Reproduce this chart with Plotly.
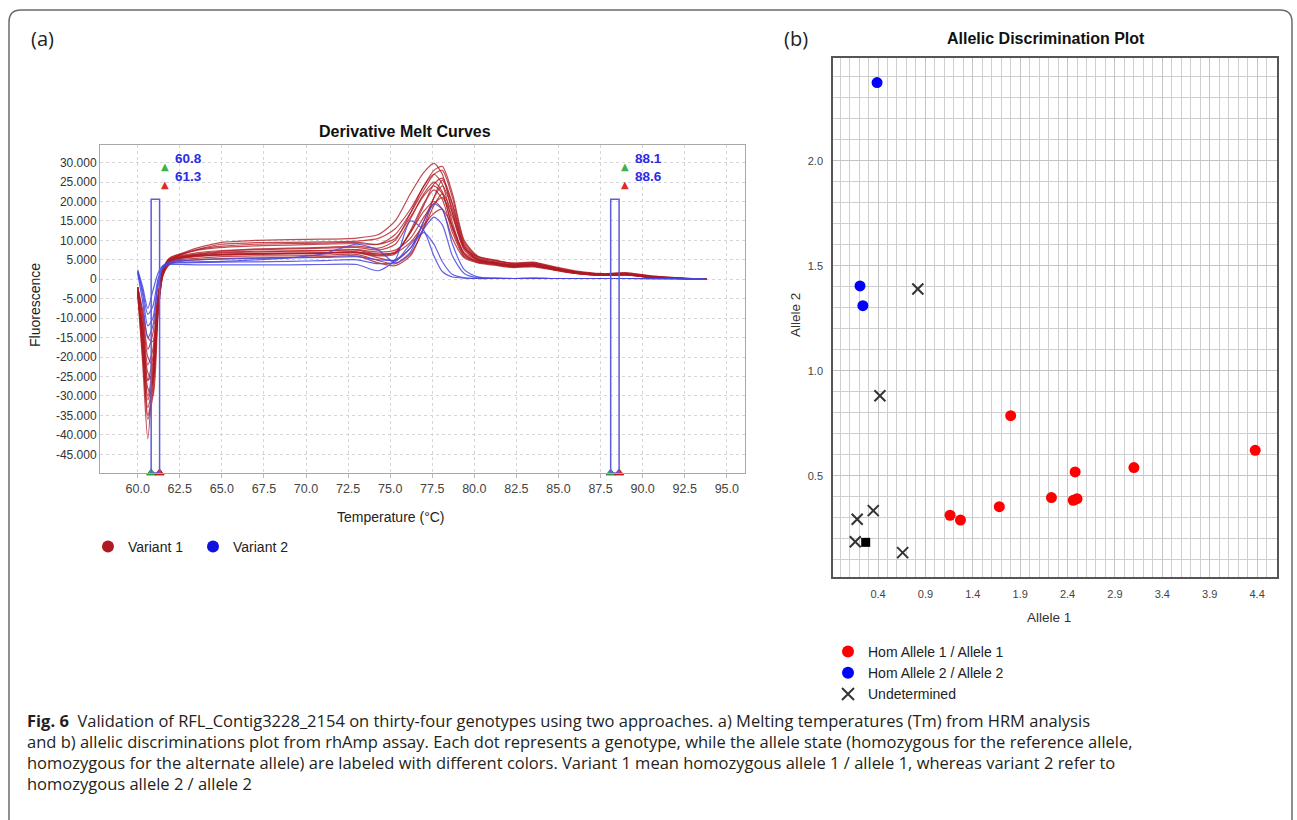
import plotly.graph_objects as go

W, H = 1297, 820

# ---------------- (a) Derivative melt curves: data (values in thousands) ----------------
TEMPS = [60.0, 60.3, 60.6, 60.9, 61.2, 61.5, 61.9, 62.5, 63.5, 65.0, 67.0, 69.0, 71.0, 73.0,
         74.3, 75.3, 76.2, 77.0, 77.6, 78.1, 78.7, 79.4, 80.2, 81.2, 82.3, 83.5, 84.8, 86.0,
         87.5, 89.0, 90.5, 92.0, 93.0, 93.8]

v1_c01 = [-3, -22, -41, -24, -6, 2.5, 5.5, 6.5, 8.0, 9.5, 10.0, 10.2, 10.3, 10.6, 11.5, 15.0, 22.0, 27.5, 29.8, 27.0, 17.0, 8.0, 5.8, 4.8, 4.2, 4.4, 3.2, 2.2, 1.5, 1.6, 0.9, 0.4, 0.2, 0.0]
v1_c02 = [-2, -18, -36, -30, -8, 2.0, 5.0, 6.2, 7.6, 9.0, 9.4, 9.5, 9.6, 9.8, 10.5, 13.0, 18.0, 24.0, 28.0, 29.0, 22.0, 10.0, 6.0, 5.0, 4.0, 4.2, 3.0, 2.0, 1.4, 1.7, 0.8, 0.4, 0.2, 0.0]
v1_c03 = [-4, -20, -33, -26, -7, 2.0, 4.8, 5.8, 6.5, 7.2, 7.8, 8.0, 8.2, 8.5, 8.0, 10.0, 17.0, 24.0, 27.0, 24.5, 14.5, 6.5, 4.8, 4.2, 3.6, 3.8, 2.8, 1.8, 1.2, 1.3, 0.7, 0.3, 0.1, 0.0]
v1_c04 = [-3, -15, -28, -30, -10, 1.5, 4.5, 5.5, 6.2, 6.8, 7.0, 7.2, 7.3, 7.5, 6.5, 7.0, 12.0, 19.0, 24.5, 26.0, 19.5, 9.0, 5.5, 4.5, 3.8, 4.0, 2.9, 1.9, 1.3, 1.4, 0.7, 0.3, 0.1, 0.0]
v1_c05 = [-2, -16, -30, -22, -6, 2.5, 5.2, 6.0, 6.8, 7.4, 7.6, 7.8, 8.0, 8.2, 7.5, 9.0, 15.5, 22.0, 25.0, 22.5, 13.0, 6.0, 4.6, 4.0, 3.4, 3.6, 2.6, 1.7, 1.1, 1.2, 0.6, 0.3, 0.1, 0.0]
v1_c06 = [-4, -12, -24, -26, -9, 1.0, 4.3, 5.2, 5.8, 6.3, 6.5, 6.6, 6.8, 7.0, 5.5, 4.8, 8.0, 15.0, 21.0, 24.0, 18.0, 8.5, 5.2, 4.2, 3.5, 3.8, 2.7, 1.8, 1.2, 1.3, 0.6, 0.3, 0.1, 0.0]
v1_c07 = [-3, -13, -26, -20, -5, 2.0, 4.8, 5.5, 6.0, 6.2, 6.4, 6.5, 6.6, 6.8, 6.0, 6.5, 12.5, 19.5, 23.0, 20.5, 12.0, 5.8, 4.4, 3.8, 3.2, 3.4, 2.4, 1.6, 1.0, 1.1, 0.5, 0.2, 0.1, 0.0]
v1_c08 = [-2, -10, -20, -22, -8, 1.0, 4.0, 5.0, 5.4, 5.8, 6.0, 6.0, 6.2, 6.4, 4.8, 4.0, 6.5, 13.0, 19.0, 22.0, 17.0, 8.0, 5.0, 4.0, 3.3, 3.5, 2.5, 1.6, 1.1, 1.2, 0.5, 0.2, 0.1, 0.0]
v1_c09 = [-3, -12, -22, -18, -5, 2.0, 4.6, 5.6, 6.4, 7.0, 7.2, 7.3, 7.4, 7.6, 7.0, 7.5, 10.5, 16.0, 19.5, 21.0, 16.0, 7.5, 5.0, 4.2, 3.6, 3.8, 2.7, 1.8, 1.2, 1.3, 0.6, 0.3, 0.1, 0.0]
v1_c10 = [-2, -9, -18, -14, -4, 2.5, 5.0, 5.8, 6.2, 6.5, 6.6, 6.7, 6.8, 7.0, 6.2, 6.8, 12.0, 17.5, 20.0, 18.0, 10.5, 5.5, 4.2, 3.6, 3.0, 3.2, 2.3, 1.5, 1.0, 1.1, 0.5, 0.2, 0.1, 0.0]
v1_c11 = [-3, -18, -35, -28, -8, 2.0, 5.0, 6.2, 7.4, 8.2, 8.6, 8.8, 9.0, 9.2, 9.0, 11.5, 17.0, 23.0, 27.0, 28.0, 21.0, 9.5, 5.8, 4.8, 4.0, 4.2, 3.0, 2.0, 1.4, 1.5, 0.7, 0.3, 0.1, 0.0]
v1_c12 = [-4, -14, -26, -24, -7, 1.0, 3.8, 4.6, 5.0, 5.3, 5.5, 5.6, 5.8, 6.0, 4.2, 3.5, 6.0, 13.5, 21.0, 25.5, 19.0, 8.5, 5.0, 4.0, 3.3, 3.5, 2.5, 1.6, 1.1, 1.2, 0.5, 0.2, 0.1, 0.0]
v1_c13 = [-2, -8, -15, -16, -5, 2.0, 4.6, 5.4, 6.0, 6.4, 6.6, 6.7, 6.8, 7.0, 6.5, 6.8, 9.5, 14.0, 17.0, 18.0, 13.5, 6.5, 4.5, 3.8, 3.2, 3.4, 2.4, 1.5, 1.0, 1.1, 0.5, 0.2, 0.1, 0.0]
v1_c14 = [-3, -16, -31, -25, -6, 2.5, 5.4, 6.4, 7.6, 8.5, 9.0, 9.2, 9.3, 9.5, 9.0, 10.5, 16.0, 21.5, 24.0, 22.0, 13.5, 6.8, 5.2, 4.4, 3.7, 3.9, 2.8, 1.9, 1.3, 1.4, 0.7, 0.3, 0.1, 0.0]

v2_c01 = [2.5, -2.0, -7.5, -3.0, 1.5, 3.5, 3.8, 3.8, 3.7, 3.7, 3.7, 3.7, 3.8, 3.8, 2.2, 5.0, 15.0, 12.5, 6.0, 2.0, 0.6, 0.3, 0.2, 0.2, 0.2, 0.3, 0.2, 0.2, 0.2, 0.2, 0.2, 0.2, 0.1, 0.0]
v2_c02 = [1.5, -6.0, -15.0, -12.0, -2.0, 3.0, 4.2, 4.4, 4.5, 4.6, 5.0, 5.5, 6.5, 9.0, 7.5, 4.2, 7.0, 15.0, 19.3, 18.0, 9.0, 2.5, 0.6, 0.3, 0.2, 0.3, 0.2, 0.2, 0.2, 0.2, 0.2, 0.2, 0.1, 0.0]
v2_c03 = [2.0, -4.0, -12.0, -10.0, -1.0, 3.0, 4.0, 4.2, 4.3, 4.4, 4.5, 4.6, 4.8, 5.0, 4.0, 4.5, 9.0, 12.0, 9.0, 4.5, 1.2, 0.4, 0.2, 0.2, 0.2, 0.2, 0.2, 0.2, 0.2, 0.2, 0.1, 0.1, 0.1, 0.0]
v2_c04 = [2.0, -3.0, -9.0, -7.0, 0.0, 3.5, 4.5, 4.8, 5.0, 5.2, 5.4, 5.5, 5.6, 5.8, 5.0, 5.0, 8.0, 13.0, 16.0, 14.0, 6.0, 1.5, 0.4, 0.3, 0.2, 0.2, 0.2, 0.2, 0.2, 0.2, 0.2, 0.1, 0.1, 0.0]

VARIANT1_CURVES = [v1_c01, v1_c02, v1_c03, v1_c04, v1_c05, v1_c06, v1_c07,
                   v1_c08, v1_c09, v1_c10, v1_c11, v1_c12, v1_c13, v1_c14]
VARIANT2_CURVES = [v2_c01, v2_c02, v2_c03, v2_c04]

TM_GREEN = [60.8, 88.1]
TM_RED = [61.3, 88.6]
TM_BOX_TOP = 20.6

A_XTICKS = [60.0, 62.5, 65.0, 67.5, 70.0, 72.5, 75.0, 77.5, 80.0, 82.5, 85.0, 87.5, 90.0, 92.5, 95.0]
A_YTICKS = [30, 25, 20, 15, 10, 5, 0, -5, -10, -15, -20, -25, -30, -35, -40, -45]
A_YTICKTEXT = ["30.000", "25.000", "20.000", "15.000", "10.000", "5.000", "0", "-5.000",
               "-10.000", "-15.000", "-20.000", "-25.000", "-30.000", "-35.000", "-40.000", "-45.000"]

# ---------------- (b) Allelic discrimination: data ----------------
HOM1_X = [1.80, 4.38, 3.10, 2.48, 2.23, 2.46, 2.50, 1.68, 1.16, 1.27]
HOM1_Y = [0.787, 0.622, 0.540, 0.519, 0.397, 0.384, 0.392, 0.354, 0.313, 0.290]
HOM2_X = [0.39, 0.21, 0.24]
HOM2_Y = [2.373, 1.405, 1.311]
UND_X = [0.82, 0.42, 0.35, 0.18, 0.16, 0.66]
UND_Y = [1.390, 0.882, 0.335, 0.294, 0.187, 0.135]
NTC_X = [0.27]
NTC_Y = [0.184]

# ---------------- layout helpers (pixels -> paper) ----------------
def px(x):
    return x / W

def py(y):
    return 1 - y / H

A_XRANGE = [57.76, 96.08]
A_YRANGE = [-49.8, 34.52]
B_XRANGE = [-0.075, 4.61]
B_YRANGE = [0.019, 2.49]

ARIAL = "Liberation Sans, Arial, sans-serif"
CAP = "Open Sans, Noto Sans, sans-serif"

RED_LINE = "rgba(176,26,34,0.78)"
BLUE_LINE = "rgba(70,70,225,0.85)"

fig = go.Figure()

for c in VARIANT1_CURVES:
    fig.add_trace(go.Scatter(x=TEMPS, y=c, mode="lines", line=dict(color=RED_LINE, width=1.2, shape="spline", smoothing=0.7),
                             showlegend=False, hoverinfo="skip", xaxis="x", yaxis="y"))
for c in VARIANT2_CURVES:
    fig.add_trace(go.Scatter(x=TEMPS[:len(c)], y=c, mode="lines", line=dict(color=BLUE_LINE, width=1.2, shape="spline", smoothing=0.7),
                             showlegend=False, hoverinfo="skip", xaxis="x", yaxis="y"))

# bottom Tm markers on the axis
fig.add_trace(go.Scatter(x=TM_GREEN, y=[A_YRANGE[0]] * len(TM_GREEN), mode="markers", cliponaxis=False,
                         marker=dict(symbol="triangle-up", size=8, color="#3db24a", line=dict(color="#1f7a2a", width=0.8)),
                         showlegend=False, hoverinfo="skip", xaxis="x", yaxis="y"))
fig.add_trace(go.Scatter(x=TM_RED, y=[A_YRANGE[0]] * len(TM_RED), mode="markers", cliponaxis=False,
                         marker=dict(symbol="triangle-up", size=8, color="#e02a2a", line=dict(color="#9a1010", width=0.8)),
                         showlegend=False, hoverinfo="skip", xaxis="x", yaxis="y"))

# legend entries for (a)
fig.add_trace(go.Scatter(x=[None], y=[None], mode="markers", name="Variant 1",
                         marker=dict(color="#b01a22", size=10), legend="legend", xaxis="x", yaxis="y"))
fig.add_trace(go.Scatter(x=[None], y=[None], mode="markers", name="Variant 2",
                         marker=dict(color="#1010e0", size=10), legend="legend", xaxis="x", yaxis="y"))

# (b) scatter
fig.add_trace(go.Scatter(x=HOM1_X, y=HOM1_Y, mode="markers", name="Hom Allele 1 / Allele 1",
                         marker=dict(color="#ff0000", size=11), legend="legend2", xaxis="x2", yaxis="y2"))
fig.add_trace(go.Scatter(x=HOM2_X, y=HOM2_Y, mode="markers", name="Hom Allele 2 / Allele 2",
                         marker=dict(color="#0000ff", size=11), legend="legend2", xaxis="x2", yaxis="y2"))
fig.add_trace(go.Scatter(x=UND_X, y=UND_Y, mode="markers", name="Undetermined",
                         marker=dict(symbol="x-thin", size=11, color="#333333", line=dict(color="#333333", width=2)),
                         legend="legend2", xaxis="x2", yaxis="y2"))
fig.add_trace(go.Scatter(x=NTC_X, y=NTC_Y, mode="markers", showlegend=False,
                         marker=dict(symbol="square", size=9, color="#000000"), xaxis="x2", yaxis="y2"))

shapes = []
# outer rounded frame
r = 12
x0, x1, y0, y1 = 9, 1292, 10, 830
path = (f"M {px(x0)},{py(y1)} L {px(x0)},{py(y0 + r)} Q {px(x0)},{py(y0)} {px(x0 + r)},{py(y0)} "
        f"L {px(x1 - r)},{py(y0)} Q {px(x1)},{py(y0)} {px(x1)},{py(y0 + r)} L {px(x1)},{py(y1)}")
shapes.append(dict(type="path", xref="paper", yref="paper", path=path, line=dict(color="#6b6b6b", width=1.5)))
# Tm boxes
for g, rd in zip(TM_GREEN, TM_RED):
    shapes.append(dict(type="rect", xref="x", yref="y", x0=g, x1=rd, y0=A_YRANGE[0], y1=TM_BOX_TOP,
                       line=dict(color="#5c5ce0", width=1.5), fillcolor="rgba(0,0,0,0)"))

ann = []
def text(x, y, s, size, color="#222", family=ARIAL, xanchor="center", **kw):
    ann.append(dict(x=px(x), y=py(y), xref="paper", yref="paper", text=s, showarrow=False,
                    font=dict(size=size, color=color, family=family), xanchor=xanchor, yanchor="middle", **kw))

text(42, 38, "(a)", 20, "#222", CAP)
text(796, 38, "(b)", 20, "#222", CAP)
text(405.5, 131, "<b>Derivative Melt Curves</b>", 16, "#111")
text(1045.5, 38, "<b>Allelic Discrimination Plot</b>", 16, "#111")
text(391, 517, "Temperature (°C)", 14, "#222")
text(35, 305, "Fluorescence", 14, "#222", textangle=-90)
text(1049, 617, "Allele 1", 13.5, "#333")
text(795, 315, "Allele 2", 13.5, "#333", textangle=-90)

# Tm triangles and labels at the top
for g, rd in zip(TM_GREEN, TM_RED):
    ann.append(dict(x=g, xref="x", xshift=14, y=py(167), yref="paper", text="▲", showarrow=False,
                    font=dict(size=10, color="#3db24a", family="DejaVu Sans"), xanchor="center", yanchor="middle"))
    ann.append(dict(x=g, xref="x", xshift=14, y=py(185), yref="paper", text="▲", showarrow=False,
                    font=dict(size=10, color="#e02a2a", family="DejaVu Sans"), xanchor="center", yanchor="middle"))
    ann.append(dict(x=g, xref="x", xshift=22, y=py(159), yref="paper", text=f"<b>{g}</b>", showarrow=False,
                    font=dict(size=13.5, color="#2b2be6", family=ARIAL), xanchor="left", yanchor="middle"))
    ann.append(dict(x=g, xref="x", xshift=22, y=py(177), yref="paper", text=f"<b>{rd}</b>", showarrow=False,
                    font=dict(size=13.5, color="#2b2be6", family=ARIAL), xanchor="left", yanchor="middle"))

CAPTION = [
    "<b>Fig. 6</b>\u00a0\u00a0Validation of RFL_Contig3228_2154 on thirty-four genotypes using two approaches. a) Melting temperatures (Tm) from HRM analysis",
    "and b) allelic discriminations plot from rhAmp assay. Each dot represents a genotype, while the allele state (homozygous for the reference allele,",
    "homozygous for the alternate allele) are labeled with different colors. Variant 1 mean homozygous allele 1 / allele 1, whereas variant 2 refer to",
    "homozygous allele 2 / allele 2",
]
for i, line in enumerate(CAPTION):
    text(25, 720 + 21 * i, line, 16.5, "#231f20", CAP, xanchor="left")

fig.update_layout(
    width=W, height=H, autosize=False,
    margin=dict(l=0, r=0, t=0, b=0),
    paper_bgcolor="white", plot_bgcolor="white",
    shapes=shapes, annotations=ann,
    xaxis=dict(domain=[px(100), px(745)], range=A_XRANGE, tickvals=A_XTICKS, tickformat=".1f",
               showgrid=True, gridcolor="#d6d6d6", griddash="dot", zeroline=False,
               showline=True, linecolor="#a8a8a8", mirror=True, ticks="outside", ticklen=4, tickcolor="#bbbbbb",
               tickfont=dict(size=12.5, color="#444", family=ARIAL), anchor="y"),
    yaxis=dict(domain=[py(473), py(145)], range=A_YRANGE, tickvals=A_YTICKS, ticktext=A_YTICKTEXT,
               showgrid=True, gridcolor="#d6d6d6", griddash="dot", zeroline=False,
               showline=True, linecolor="#a8a8a8", mirror=True, ticks="",
               tickfont=dict(size=12, color="#333", family=ARIAL), anchor="x"),
    xaxis2=dict(domain=[px(833), px(1277)], range=B_XRANGE, tick0=0.4, dtick=0.5, tickformat=".1f",
                showgrid=True, gridcolor="#c4c4c4", gridwidth=1, zeroline=False,
                minor=dict(dtick=0.1, tick0=0, showgrid=True, gridcolor="#cfcfcf", gridwidth=1),
                showline=True, linecolor="#555", linewidth=1.5, mirror=True,
                ticks="outside", ticklen=6, tickcolor="rgba(0,0,0,0)",
                tickfont=dict(size=11, color="#444", family=ARIAL), anchor="y2"),
    yaxis2=dict(domain=[py(577), py(58)], range=B_YRANGE, tick0=0.5, dtick=0.5, tickformat=".1f",
                showgrid=True, gridcolor="#c4c4c4", gridwidth=1, zeroline=False,
                minor=dict(dtick=0.1, tick0=0, showgrid=True, gridcolor="#cfcfcf", gridwidth=1),
                showline=True, linecolor="#555", linewidth=1.5, mirror=True,
                ticks="outside", ticklen=6, tickcolor="rgba(0,0,0,0)",
                tickfont=dict(size=11, color="#444", family=ARIAL), anchor="x2"),
    legend=dict(orientation="h", x=px(88), y=py(547), xanchor="left", yanchor="middle",
                font=dict(size=14, color="#222", family=ARIAL), bgcolor="rgba(0,0,0,0)",
                entrywidth=60, entrywidthmode="pixels", itemsizing="constant"),
    legend2=dict(orientation="v", x=px(828), y=py(636), xanchor="left", yanchor="top",
                 font=dict(size=14, color="#222", family=ARIAL), bgcolor="rgba(0,0,0,0)",
                 tracegroupgap=0, itemsizing="constant"),
    showlegend=True,
)

fig.write_html("out.html")
